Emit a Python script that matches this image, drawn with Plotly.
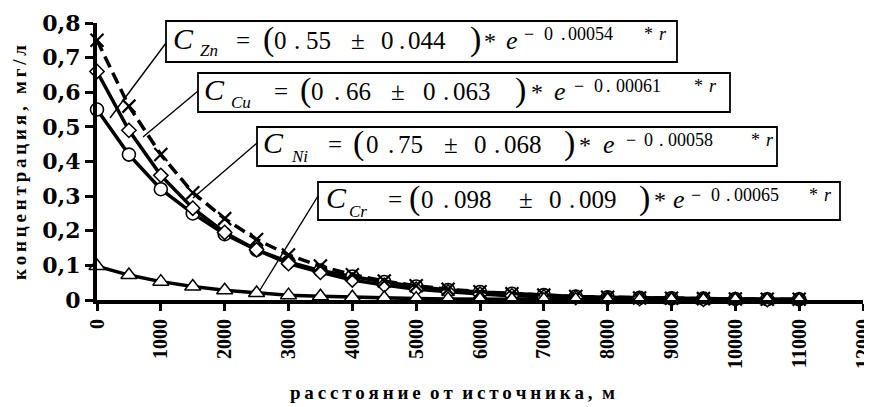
import plotly.graph_objects as go

# ---------------- data ----------------
distance_m = [0, 500, 1000, 1500, 2000, 2500, 3000, 3500, 4000, 4500, 5000, 5500,
              6000, 6500, 7000, 7500, 8000, 8500, 9000, 9500, 10000, 10500, 11000]
zn = [0.55, 0.42, 0.32, 0.25, 0.19, 0.145, 0.11, 0.085, 0.068, 0.052, 0.039, 0.029,
      0.023, 0.018, 0.014, 0.01, 0.008, 0.006, 0.005, 0.004, 0.003, 0.002, 0.002]
cu = [0.66, 0.49, 0.36, 0.265, 0.195, 0.145, 0.105, 0.08, 0.058, 0.043, 0.031, 0.023,
      0.017, 0.012, 0.009, 0.007, 0.005, 0.004, 0.003, 0.002, 0.0015, 0.001, 0.001]
ni = [0.75, 0.56, 0.42, 0.31, 0.235, 0.175, 0.13, 0.098, 0.073, 0.055, 0.041, 0.031,
      0.024, 0.018, 0.014, 0.01, 0.008, 0.006, 0.005, 0.004, 0.003, 0.002, 0.002]
cr = [0.098, 0.072, 0.053, 0.039, 0.028, 0.02, 0.014, 0.011, 0.008, 0.006, 0.004, 0.003,
      0.002, 0.0015, 0.001, 0.001, 0.0005, 0.0004, 0.0003, 0.0002, 0.0002, 0.0001, 0.0001]

metals = ["Zn", "Cu", "Ni", "Cr"]
coef_a = ["0.55", "0.66", "0.75", "0.098"]
coef_err = ["0.044", "0.063", "0.068", "0.009"]
coef_k = ["0.00054", "0.00061", "0.00058", "0.00065"]

x_ticks = [0, 1000, 2000, 3000, 4000, 5000, 6000, 7000, 8000, 9000, 10000, 11000, 12000]
x_tick_text = ["0", "1000", "2000", "3000", "4000", "5000", "6000", "7000", "8000",
               "9000", "10000", "11000", "12000"]
y_ticks = [0, 0.1, 0.2, 0.3, 0.4, 0.5, 0.6, 0.7, 0.8]
y_tick_text = ["0", "0,1", "0,2", "0,3", "0,4", "0,5", "0,6", "0,7", "0,8"]

x_title = "расстояние от источника, м"
y_title = "концентрация, мг/л"

# ---------------- layout geometry (page pixels; page body has an 8px margin) ----------------
OFF = 8
W_FIG, H_FIG = 872 - OFF, 407 - OFF
PLOT_LEFT, PLOT_RIGHT, PLOT_TOP, PLOT_BOTTOM = 97, 863, 23, 300  # page px
L = PLOT_LEFT - OFF
T = PLOT_TOP - OFF
R = W_FIG - (PLOT_RIGHT - OFF)
B = H_FIG - (PLOT_BOTTOM - OFF)
PW = PLOT_RIGHT - PLOT_LEFT
PH = PLOT_BOTTOM - PLOT_TOP
SERIF = "Liberation Serif"


def px(xp):
    return (xp - PLOT_LEFT) / PW


def py(yp):
    return (PLOT_BOTTOM - yp) / PH


fig = go.Figure()

common = dict(mode="lines+markers", cliponaxis=False, showlegend=False)
fig.add_trace(go.Scatter(x=distance_m, y=zn, **common,
                         line=dict(color="black", width=3.5),
                         marker=dict(symbol="circle", size=13, color="white",
                                     line=dict(color="black", width=1.6))))
fig.add_trace(go.Scatter(x=distance_m, y=cu, **common,
                         line=dict(color="black", width=3.5),
                         marker=dict(symbol="diamond", size=11, color="white",
                                     line=dict(color="black", width=1.5))))
fig.add_trace(go.Scatter(x=distance_m, y=ni, **common,
                         line=dict(color="black", width=3.5, dash="12px,6px"),
                         marker=dict(symbol="x-thin", size=13,
                                     line=dict(color="black", width=2.2))))
fig.add_trace(go.Scatter(x=distance_m, y=cr, **common,
                         line=dict(color="black", width=3.5),
                         marker=dict(symbol="triangle-up", size=14, color="white",
                                     line=dict(color="black", width=1.5))))

# ---------------- equation boxes ----------------
boxes = [  # left, right, top, bottom (page px)
    (166, 677, 21, 62),
    (198, 730, 73, 112),
    (257, 777, 127, 166),
    (318, 840, 182, 220),
]
offsets = [
    [6, 33, 69, 96, 107, 127, 139, 184, 214, 232, 241, 303, 317, 339, 357, 377, 394, 401, 477, 492],
    [5, 32, 75, 101, 112, 135, 147, 192, 224, 244, 254, 316, 332, 355, 375, 395, 407, 417, 495, 510],
    [5, 33, 70, 95, 108, 130, 140, 186, 216, 236, 246, 306, 321, 345, 368, 386, 401, 410, 493, 508],
    [7, 30, 69, 90, 102, 124, 135, 200, 230, 250, 260, 320, 335, 354, 372, 392, 407, 415, 490, 505],
]
main_base = [28, 27, 26, 26]
callouts = [  # from box edge to curve (page px)
    ((166, 43), (110, 118)),
    ((198, 91), (143, 137)),
    ((257, 143), (193, 198)),
    ((318, 196), (260, 290)),
]

shapes = []
annotations = []

for i in range(4):
    x0, x1, y0, y1 = boxes[i]
    shapes.append(dict(type="rect", xref="paper", yref="paper",
                       x0=px(x0), x1=px(x1), y0=py(y1), y1=py(y0),
                       line=dict(color="black", width=1.8), fillcolor="white",
                       layer="above"))
    (ax, ay), (bx, by) = callouts[i]
    shapes.append(dict(type="line", xref="paper", yref="paper",
                       x0=px(ax), y0=py(ay), x1=px(bx), y1=py(by),
                       line=dict(color="black", width=1.4), layer="above"))

    a_int, a_frac = coef_a[i].split(".")
    e_int, e_frac = coef_err[i].split(".")
    k_int, k_frac = coef_k[i].split(".")
    base = y0 + main_base[i]
    sub = y0 + 35
    sup = y0 + 19
    toks = [
        ("C", 30, True, base), (metals[i], 17, True, sub), ("=", 25, False, base),
        ("(", 34, False, base + 1), (a_int, 25, False, base), (".", 25, False, base),
        (a_frac, 25, False, base), ("±", 25, False, base), (e_int, 25, False, base),
        (".", 25, False, base), (e_frac, 25, False, base), (")", 34, False, base + 1),
        ("*", 24, False, base), ("e", 26, True, base), ("−", 18, False, sup),
        (k_int, 18, False, sup), (".", 18, False, sup), (k_frac, 18, False, sup),
        ("*", 18, False, sup), ("r", 18, True, sup),
    ]
    for (txt, fs, ital, bl), off in zip(toks, offsets[i]):
        yc = bl - 0.3375 * fs
        annotations.append(dict(
            text=txt, xref="paper", yref="paper", x=px(x0 + off), y=py(yc),
            xanchor="left", yanchor="middle", showarrow=False, borderpad=0,
            font=dict(family=SERIF, size=fs, color="black",
                      style="italic" if ital else "normal")))

# axis titles
annotations.append(dict(
    text="\u2009".join(list(y_title)), xref="paper", yref="paper",
    x=px(19), y=py(163), xanchor="center", yanchor="middle", textangle=-90,
    showarrow=False, font=dict(family=SERIF, size=19, color="black", weight="bold")))
annotations.append(dict(
    text="\u00a0\u00a0".join("\u2009".join(list(w)) for w in x_title.split(" ")),
    xref="paper", yref="paper",
    x=px(452), y=py(392), xanchor="center", yanchor="middle",
    showarrow=False, font=dict(family=SERIF, size=19, color="black", weight="bold")))

fig.update_layout(
    width=W_FIG, height=H_FIG,
    margin=dict(l=L, r=R, t=T, b=B, pad=0),
    paper_bgcolor="white", plot_bgcolor="white",
    shapes=shapes, annotations=annotations,
    font=dict(family=SERIF, color="black"),
)
fig.update_xaxes(range=[0, 12000], tickvals=x_ticks, ticktext=x_tick_text,
                 tickangle=-90, ticks="outside", ticklen=7, tickwidth=3,
                 ticklabeloverflow="allow", automargin=False,
                 tickcolor="black", showline=True, linewidth=4, linecolor="black",
                 showgrid=False, zeroline=False,
                 tickfont=dict(family=SERIF, size=20, color="black", weight="bold"))
fig.update_yaxes(range=[0, 0.8], tickvals=y_ticks, ticktext=y_tick_text,
                 ticks="outside", ticklen=8, tickwidth=3, tickcolor="black",
                 automargin=False,
                 showline=True, linewidth=4, linecolor="black",
                 showgrid=False, zeroline=False,
                 tickfont=dict(family="DejaVu Serif", size=22, color="black", weight="bold"))

fig.write_html("out.html")
